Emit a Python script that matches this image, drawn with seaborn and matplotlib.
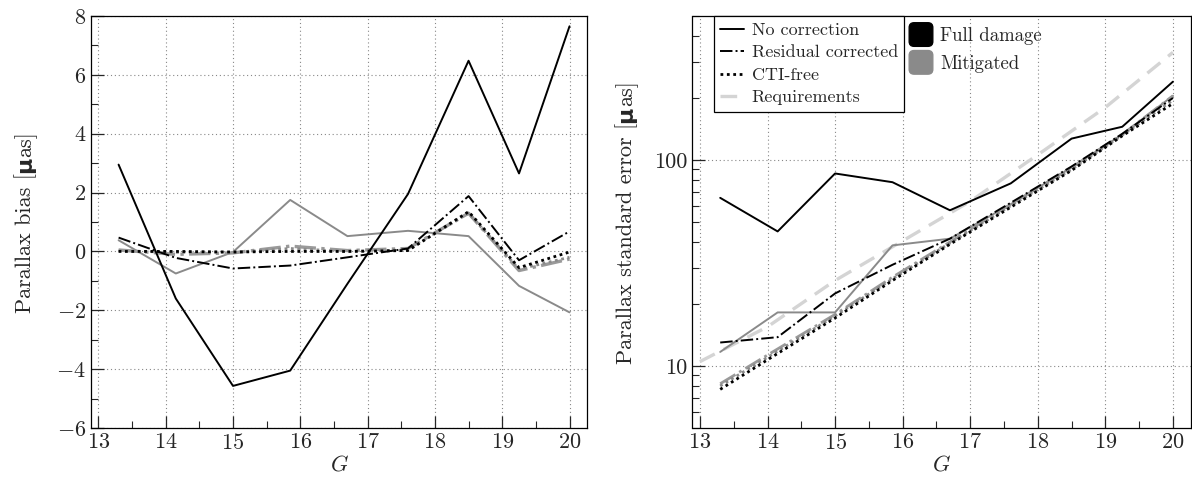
import numpy as np
import pandas as pd
import matplotlib
matplotlib.use("Agg")
import matplotlib.pyplot as plt
import seaborn as sns
from matplotlib.lines import Line2D
from matplotlib.patches import Patch, FancyBboxPatch
from matplotlib.legend_handler import HandlerPatch
from matplotlib.transforms import IdentityTransform
from matplotlib.ticker import MultipleLocator, FixedLocator, FixedFormatter, LogLocator, NullFormatter

# ---------------- data ----------------
G = [13.3, 14.15, 15.0, 15.85, 16.7, 17.6, 18.5, 19.25, 20.0]

bias_nocorr_full = [2.95, -1.6, -4.57, -4.05, -1.1, 1.95, 6.48, 2.65, 7.65]
bias_nocorr_mit = [0.38, -0.75, -0.02, 1.75, 0.52, 0.7, 0.52, -1.17, -2.07]
bias_resid_full = [0.47, -0.22, -0.58, -0.48, -0.2, 0.1, 1.88, -0.3, 0.68]
bias_resid_mit = [0.05, -0.1, -0.05, 0.18, 0.03, 0.1, 1.3, -0.65, -0.26]
bias_ctifree_full = [0.0, 0.0, -0.02, 0.0, 0.0, 0.03, 1.35, -0.55, -0.02]
bias_ctifree_mit = [0.02, -0.03, -0.03, 0.1, 0.0, 0.05, 1.3, -0.6, -0.2]

se_nocorr_full = [65.5, 45.0, 86.0, 78.0, 57.0, 77.0, 127.0, 145.0, 240.0]
se_nocorr_mit = [11.7, 18.2, 18.2, 38.5, 41.5, 61.0, 92.0, 133.0, 205.0]
se_resid_full = [13.0, 13.8, 22.5, 31.0, 41.5, 62.0, 93.0, 134.0, 200.0]
se_resid_mit = [8.2, 12.1, 17.8, 27.0, 40.0, 61.0, 92.0, 133.0, 205.0]
se_ctifree_full = [7.7, 11.5, 17.1, 26.0, 39.0, 59.0, 89.0, 131.0, 188.0]
se_ctifree_mit = [8.0, 11.8, 17.5, 26.5, 39.5, 60.0, 90.0, 132.0, 195.0]

req_G = [13, 14, 15, 16, 17, 18, 19, 20]
req_se = [10.5, 15.5, 26.0, 40.5, 63.0, 106.0, 180.0, 333.0]

legend_styles = ["No correction", "Residual corrected", "CTI-free", "Requirements"]
legend_colors = ["Full damage", "Mitigated"]
ylabel_left = ("Parallax bias [", "µ", "as]")
ylabel_right = ("Parallax standard error [", "µ", "as]")

# ---------------- style ----------------
sns.set_style("ticks")
plt.rcParams["font.family"] = ["cmr10", "DejaVu Serif"]
plt.rcParams["mathtext.fontset"] = "cm"
plt.rcParams["axes.formatter.use_mathtext"] = True
plt.rcParams["axes.unicode_minus"] = True

BLACK = "#000000"
GRAY = "#8a8a8a"
REQ = "#d4d4d4"
DOT = (0, (1, 1.3))

W, H = 1192, 484
fig = plt.figure(figsize=(W / 100, H / 100), dpi=100)
ax1 = fig.add_axes([91 / W, 1 - 428 / H, (587 - 91) / W, (428 - 16) / H])
ax2 = fig.add_axes([692.5 / W, 1 - 428 / H, (1190.5 - 692.5) / W, (428 - 16) / H])

def draw(ax, y, color, ls, lw, z):
    sns.lineplot(x=G, y=y, ax=ax, color=color, linestyle=ls, linewidth=lw,
                 zorder=z, legend=False, errorbar=None)

# left panel
draw(ax1, bias_nocorr_mit, GRAY, "-", 1.4, 3)
draw(ax1, bias_resid_mit, "#9a9a9a", "-.", 2.4, 3)
draw(ax1, bias_ctifree_mit, GRAY, DOT, 2.0, 3)
draw(ax1, bias_nocorr_full, BLACK, "-", 1.4, 4)
draw(ax1, bias_resid_full, BLACK, "-.", 1.4, 4)
draw(ax1, bias_ctifree_full, BLACK, DOT, 2.0, 4)

# right panel
sns.lineplot(x=req_G, y=req_se, ax=ax2, color=REQ, linestyle=(0, (5, 3)),
             linewidth=2.4, zorder=2, legend=False, errorbar=None)
draw(ax2, se_nocorr_mit, GRAY, "-", 1.4, 3)
draw(ax2, se_resid_mit, "#9a9a9a", "-.", 2.0, 3)
draw(ax2, se_ctifree_mit, GRAY, DOT, 2.0, 3)
draw(ax2, se_nocorr_full, BLACK, "-", 1.4, 4)
draw(ax2, se_resid_full, BLACK, "-.", 1.4, 4)
draw(ax2, se_ctifree_full, BLACK, DOT, 2.0, 4)
ax2.set_yscale("log")

FS = 16
for ax in (ax1, ax2):
    ax.set_xlim(12.89, 20.26)
    ax.xaxis.set_major_locator(MultipleLocator(1))
    ax.xaxis.set_minor_locator(MultipleLocator(0.5))
    ax.grid(True, which="major", linestyle=(0, (1, 2.5)), color="#888888", linewidth=0.8)
    ax.tick_params(which="major", direction="in", length=9, width=0.9, labelsize=FS,
                   top=False, right=False)
    ax.tick_params(which="minor", direction="in", length=5, width=0.8, top=False, right=False)
    for s in ax.spines.values():
        s.set_linewidth(0.9)
        s.set_color("black")
    ax.set_xlabel(r"$G$", fontsize=FS, labelpad=1)
    ax.set_axisbelow(True)

ax1.set_ylim(-6, 8)
ax1.yaxis.set_major_locator(MultipleLocator(2))
ax1.yaxis.set_minor_locator(MultipleLocator(1))

ax2.set_ylim(5, 500)
ax2.yaxis.set_major_locator(FixedLocator([10, 100]))
ax2.yaxis.set_major_formatter(FixedFormatter(["10", "100"]))
ax2.yaxis.set_minor_locator(LogLocator(base=10, subs=np.arange(2, 10)))
ax2.yaxis.set_minor_formatter(NullFormatter())

# legends
h1 = [Line2D([], [], color=BLACK, ls="-", lw=1.4),
      Line2D([], [], color=BLACK, ls="-.", lw=1.4),
      Line2D([], [], color=BLACK, ls=DOT, lw=2.0),
      Line2D([], [], color=REQ, ls=(0, (5, 3)), lw=2.4)]
leg1 = ax2.legend(h1, legend_styles, loc="upper left", bbox_to_anchor=(0.043, 1.0),
                  borderaxespad=0, fontsize=13, frameon=True, fancybox=False,
                  edgecolor="black", framealpha=1, handlelength=1.3, handletextpad=0.45,
                  labelspacing=0.38, borderpad=0.35)
leg1.get_frame().set_linewidth(0.9)
ax2.add_artist(leg1)

def rounded_square(legend, orig_handle, xdescent, ydescent, width, height, fontsize):
    s = 17.0
    x0 = -xdescent + (width - s) / 2
    y0 = -ydescent + (height - s) / 2
    return FancyBboxPatch((x0, y0), s, s, boxstyle="round,pad=0,rounding_size=3.5")

h2 = [Patch(facecolor=BLACK, edgecolor=BLACK), Patch(facecolor=GRAY, edgecolor=GRAY)]
ax2.legend(h2, legend_colors, loc="upper left", bbox_to_anchor=(0.424, 0.992),
           borderaxespad=0, fontsize=13.5, frameon=False, handlelength=1.25,
           handleheight=1.2, handletextpad=0.4, labelspacing=0.42, borderpad=0.3,
           handler_map={Patch: HandlerPatch(patch_func=rounded_square)})

# y labels built from pieces (bold sans micro sign)
fig.canvas.draw()
renderer = fig.canvas.get_renderer()

def ylabel_pieces(ax, x_img, pieces):
    props = [dict(family=["cmr10", "DejaVu Serif"]),
             dict(family=["DejaVu Sans"], weight="bold"),
             dict(family=["cmr10", "DejaVu Serif"])]
    texts = []
    for s, p in zip(pieces, props):
        t = fig.text(0, 0, s, rotation=90, rotation_mode="anchor", ha="left",
                     va="baseline", fontsize=FS, transform=IdentityTransform(), **p)
        texts.append(t)
    lens = [t.get_window_extent(renderer).height for t in texts]
    bb = ax.get_window_extent(renderer)
    yc = (bb.y0 + bb.y1) / 2
    y = yc - sum(lens) / 2
    for t, L in zip(texts, lens):
        t.set_position((x_img, y))
        y += L

ylabel_pieces(ax1, 31, ylabel_left)
ylabel_pieces(ax2, 632, ylabel_right)

fig.savefig("out.png", dpi=100)
